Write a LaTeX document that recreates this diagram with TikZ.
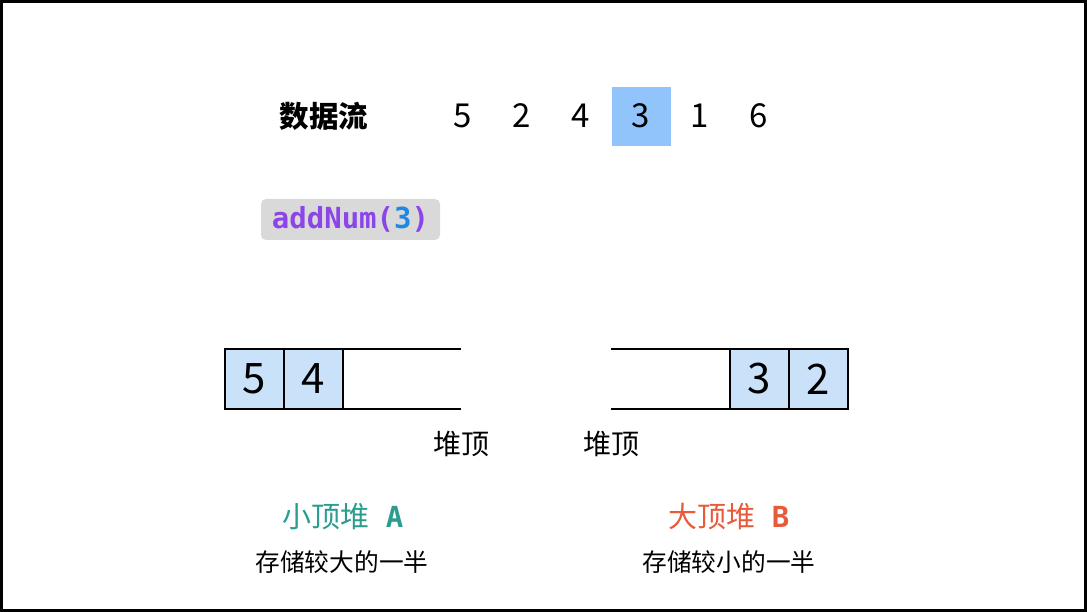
\documentclass[tikz,border=0pt]{standalone}
\usepackage{fontspec}
\setmainfont{Noto Sans CJK SC}
\newfontfamily\monof{DejaVu Sans Mono}
\definecolor{hl}{RGB}{144,196,250}
\definecolor{cellc}{RGB}{201,226,250}
\definecolor{codebg}{RGB}{217,217,217}
\definecolor{codepurple}{RGB}{139,69,232}
\definecolor{codeblue}{RGB}{30,136,229}
\definecolor{teal}{RGB}{42,157,143}
\definecolor{redo}{RGB}{231,90,58}
\tikzset{
  cell/.style={draw=black, line width=1.5pt, fill=cellc, minimum width=59pt, minimum height=60pt, inner sep=0pt, outer sep=0pt, font=\fontsize{42}{44}\selectfont},
  num/.style={font=\fontsize{33}{35}\selectfont, inner sep=0pt},
  cjk/.style={font=\fontsize{28}{30}\selectfont, inner sep=0pt},
  small/.style={font=\fontsize{24.7}{26}\selectfont, inner sep=0pt},
  heapline/.style={line width=1.5pt}
}
\begin{document}
\begin{tikzpicture}[x=1pt,y=-1pt]
\useasboundingbox (0,0) rectangle (1087,612);
\draw[line width=3pt] (1.5,1.5) rectangle (1085.5,610.5);
% stream
\node[cjk, font=\fontsize{29.5}{31}\selectfont\bfseries] (lbl) at (324,116) {数据流};
\fill[hl] (612,87) rectangle (671,146);
\node[num] (n1) at (463,116) {5};
\node[num] (n2) at (522,116) {2};
\node[num] (n3) at (581,116) {4};
\node[num] (n4) at (641,116) {3};
\node[num] (n5) at (700,116) {1};
\node[num] (n6) at (759,116) {6};
% code
\node[fill=codebg, rounded corners=5pt, minimum width=179pt, minimum height=41pt, inner sep=0pt,
  font=\monof\bfseries\fontsize{29}{31}\selectfont] (code) at (350.5,219.5)
  {\textcolor{codepurple}{addNum(}\textcolor{codeblue}{3}\textcolor{codepurple}{)}};
% left heap
\node[cell, anchor=north west] (a1) at (225,349) {5};
\node[cell, anchor=north west] (a2) at (284,349) {4};
\coordinate (atopend) at (461,349);
\coordinate (abotend) at (461,409);
\draw[heapline] (a2.north east) -- (atopend);
\draw[heapline] (a2.south east) -- (abotend);
% right heap
\node[cell, anchor=north west] (b1) at (730,349) {3};
\node[cell, anchor=north west] (b2) at (789,349) {2};
\coordinate (btopend) at (611,349);
\coordinate (bbotend) at (611,409);
\draw[heapline] (b1.north west) -- (btopend);
\draw[heapline] (b1.south west) -- (bbotend);
% tops
\node[cjk] (ta) at (461,444) {堆顶};
\node[cjk] (tb) at (611,444) {堆顶};
% captions
\node[cjk, font=\fontsize{29}{31}\selectfont, text=teal] (ha) at (343,517) {小顶堆\hspace{16pt}{\monof\bfseries A}};
\node[cjk, font=\fontsize{29}{31}\selectfont, text=redo] (hb) at (729,517) {大顶堆\hspace{16pt}{\monof\bfseries B}};
\node[small] (da) at (342,562) {存储较大的一半};
\node[small] (db) at (729,562) {存储较小的一半};
\end{tikzpicture}
\end{document}
